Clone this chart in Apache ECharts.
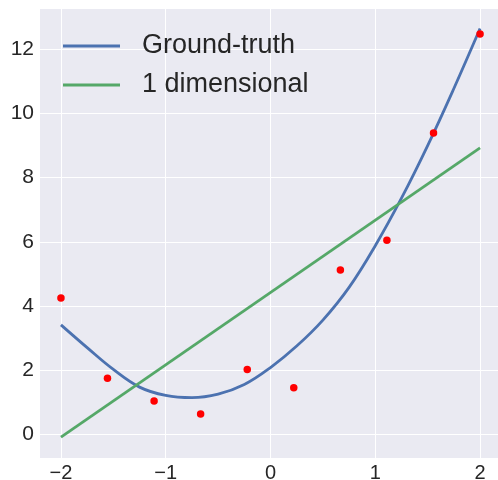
<!DOCTYPE html>
<html><head><meta charset="utf-8">
<style>html,body{margin:0;padding:0;background:#fff}#c{width:498px;height:480px}</style>
<script src="https://cdn.jsdelivr.net/npm/echarts@6/dist/echarts.min.js"></script>
</head><body><div id="c"></div>
<script>
// Ground-truth curve
const truthX = [-2, -1.75, -1.5, -1.25, -1, -0.75, -0.5, -0.25, 0, 0.25, 0.5, 0.75, 1, 1.25, 1.5, 1.75, 2];
const truthY = [3.41, 2.70, 2.02, 1.47, 1.21, 1.14, 1.25, 1.55, 2.08, 2.75, 3.56, 4.58, 5.88, 7.36, 9.0, 10.78, 12.65];
// 1 dimensional fit (straight line endpoints)
const fitX = [-2, 2];
const fitY = [-0.09, 8.93];
// Sample points
const pointX = [-2, -1.556, -1.111, -0.667, -0.222, 0.222, 0.667, 1.111, 1.556, 2];
const pointY = [4.25, 1.75, 1.04, 0.63, 2.02, 1.45, 5.12, 6.05, 9.39, 12.48];
// Ticks
const xTicks = [-2, -1, 0, 1, 2];
const yTicks = [0, 2, 4, 6, 8, 10, 12];
const seriesNames = ['Ground-truth', '1 dimensional'];

const font = '"Liberation Sans", Arial, sans-serif';
const txt = '#262626';
const fmt = v => String(v).replace('-', '\u2212');

const chart = echarts.init(document.getElementById('c'), null, {renderer: 'canvas'});
chart.setOption({
  animation: false,
  backgroundColor: '#ffffff',
  grid: {left: 40, top: 9, width: 461, height: 449, backgroundColor: '#EAEAF2', show: true, borderWidth: 0,
         containLabel: false, outerBoundsMode: 'none'},
  xAxis: {
    type: 'value', min: -2.2, max: 2.2,
    axisLine: {show: false}, axisTick: {show: false, customValues: xTicks},
    axisLabel: {customValues: xTicks, formatter: fmt, color: txt, fontSize: 20, fontFamily: font, margin: 5},
    splitLine: {show: true, lineStyle: {color: '#ffffff', width: 1}}
  },
  yAxis: {
    type: 'value', min: -0.74, max: 13.26,
    axisLine: {show: false}, axisTick: {show: false, customValues: yTicks},
    axisLabel: {customValues: yTicks, formatter: fmt, color: txt, fontSize: 21, fontFamily: font, margin: 6},
    splitLine: {show: true, lineStyle: {color: '#ffffff', width: 1}}
  },
  legend: {
    data: seriesNames, orient: 'vertical', left: 63, top: 31, padding: 0,
    icon: 'rect', itemWidth: 57, itemHeight: 3, itemGap: 9,
    textStyle: {color: txt, fontSize: 27, fontFamily: font, lineHeight: 30, padding: [0, 0, 0, 17]}
  },
  series: [
    {name: seriesNames[0], type: 'line', smooth: 0.4, symbol: 'none', z: 3,
     lineStyle: {color: '#4C72B0', width: 2.8}, itemStyle: {color: '#4C72B0'},
     data: truthX.map((x, i) => [x, truthY[i]])},
    {name: seriesNames[1], type: 'line', symbol: 'none', z: 3,
     lineStyle: {color: '#55A868', width: 2.8}, itemStyle: {color: '#55A868'},
     data: fitX.map((x, i) => [x, fitY[i]])},
    {name: 'points', type: 'scatter', symbolSize: 7.5, z: 4,
     itemStyle: {color: '#FF0000', opacity: 1},
     data: pointX.map((x, i) => [x, pointY[i]])}
  ]
});
</script></body></html>
